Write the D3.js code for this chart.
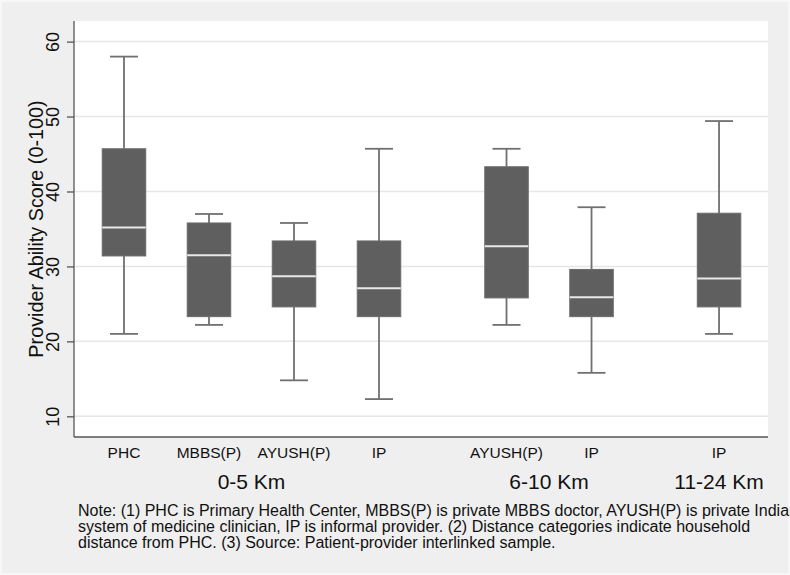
<!DOCTYPE html>
<html>
<head>
<meta charset="utf-8">
<script src="https://cdn.jsdelivr.net/npm/d3@7"></script>
<style>
  html, body { margin: 0; padding: 0; background: #f7f7f7; }
  svg { display: block; }
  text { font-family: "Liberation Sans", Arial, Helvetica, sans-serif; }
</style>
</head>
<body>
<svg id="chart" width="790" height="575"></svg>
<script>
// ---- data ----
const groups = ["0-5 Km", "6-10 Km", "11-24 Km"];
const categories = ["PHC", "MBBS(P)", "AYUSH(P)", "IP", "AYUSH(P)", "IP", "IP"];
const groupIndex = [0, 0, 0, 0, 1, 1, 2];
const whiskerLow  = [21.0, 22.2, 14.8, 12.3, 22.2, 15.8, 21.0];
const q1          = [31.4, 23.3, 24.6, 23.3, 25.8, 23.3, 24.6];
const median      = [35.2, 31.5, 28.7, 27.1, 32.7, 25.9, 28.4];
const q3          = [45.7, 35.8, 33.4, 33.4, 43.3, 29.6, 37.1];
const whiskerHigh = [58.0, 37.0, 35.8, 45.7, 45.7, 37.9, 49.4];
const yTicks = [10, 20, 30, 40, 50, 60];
const yTitle = "Provider Ability Score (0-100)";
const noteLines = [
  "Note: (1) PHC is Primary Health Center, MBBS(P) is private MBBS doctor, AYUSH(P) is private Indian",
  "system of medicine clinician, IP is informal provider. (2) Distance categories indicate household",
  "distance from PHC. (3) Source: Patient-provider interlinked sample."
];

// ---- layout ----
const svg = d3.select("#chart");
const W = 790, H = 575;
const plot = { left: 74, right: 768, top: 21, bottom: 437 };

svg.append("rect").attr("x", 2).attr("y", 2).attr("width", W - 4).attr("height", H - 4)
  .attr("fill", "#efefef");
svg.append("rect").attr("x", plot.left).attr("y", plot.top)
  .attr("width", plot.right - plot.left).attr("height", plot.bottom - plot.top)
  .attr("fill", "#ffffff");

const slot = categories.map((c, i) => i + groupIndex[i] * 0.5);
const x = d3.scaleLinear().domain([-0.588, 7.576]).range([plot.left, plot.right]);
const y = d3.scaleLinear().domain([7.24, 62.75]).range([plot.bottom, plot.top]);

// gridlines
svg.append("g").selectAll("line").data(yTicks).join("line")
  .attr("x1", plot.left).attr("x2", plot.right)
  .attr("y1", d => y(d)).attr("y2", d => y(d))
  .attr("stroke", "#e6e6e6").attr("stroke-width", 1.5);

// y axis
const yAxis = d3.axisLeft(y).tickValues(yTicks).tickSize(7).tickPadding(0).tickFormat(d3.format("d"));
const gy = svg.append("g").attr("transform", `translate(${plot.left},0)`).call(yAxis);
gy.select(".domain").attr("d", `M0,${plot.top}V${plot.bottom}`).attr("stroke", "#555").attr("stroke-width", 1.3);
gy.selectAll(".tick line").attr("stroke", "#555").attr("stroke-width", 1.3);
gy.selectAll(".tick text")
  .attr("x", null).attr("dy", null)
  .attr("transform", "translate(-15.5,0) rotate(-90)")
  .attr("text-anchor", "middle")
  .attr("font-size", 18).attr("fill", "#111")
  .attr("font-family", "'Liberation Sans', Arial, sans-serif");

// x axis line
svg.append("line").attr("x1", plot.left).attr("x2", plot.right)
  .attr("y1", plot.bottom).attr("y2", plot.bottom)
  .attr("stroke", "#555").attr("stroke-width", 1.3);

// y title
svg.append("text")
  .attr("transform", `translate(42.5,${(plot.top + plot.bottom) / 2}) rotate(-90)`)
  .attr("text-anchor", "middle").attr("font-size", 19.8).attr("fill", "#111")
  .text(yTitle);

// boxes
const boxW = 43.5, capW = 28;
const g = svg.append("g");
categories.forEach((c, i) => {
  const cx = x(slot[i]);
  g.append("line").attr("x1", cx).attr("x2", cx)
    .attr("y1", y(q3[i])).attr("y2", y(whiskerHigh[i]))
    .attr("stroke", "#707070").attr("stroke-width", 1.8);
  g.append("line").attr("x1", cx).attr("x2", cx)
    .attr("y1", y(q1[i])).attr("y2", y(whiskerLow[i]))
    .attr("stroke", "#707070").attr("stroke-width", 1.8);
  g.append("line").attr("x1", cx - capW / 2).attr("x2", cx + capW / 2)
    .attr("y1", y(whiskerHigh[i])).attr("y2", y(whiskerHigh[i]))
    .attr("stroke", "#707070").attr("stroke-width", 1.8);
  g.append("line").attr("x1", cx - capW / 2).attr("x2", cx + capW / 2)
    .attr("y1", y(whiskerLow[i])).attr("y2", y(whiskerLow[i]))
    .attr("stroke", "#707070").attr("stroke-width", 1.8);
  g.append("rect").attr("x", cx - boxW / 2).attr("width", boxW)
    .attr("y", y(q3[i])).attr("height", y(q1[i]) - y(q3[i]))
    .attr("fill", "#5f5f5f").attr("stroke", "#6a6a6a").attr("stroke-width", 1);
  g.append("line").attr("x1", cx - boxW / 2).attr("x2", cx + boxW / 2)
    .attr("y1", y(median[i])).attr("y2", y(median[i]))
    .attr("stroke", "#e8e8e8").attr("stroke-width", 2);
  svg.append("text").attr("x", cx).attr("y", 457.5)
    .attr("text-anchor", "middle").attr("font-size", 15.5).attr("fill", "#111")
    .text(c);
});

// group labels
groups.forEach((gname, gi) => {
  const idx = groupIndex.map((v, i) => v === gi ? i : -1).filter(i => i >= 0);
  const cx = (x(slot[idx[0]]) + x(slot[idx[idx.length - 1]])) / 2;
  svg.append("text").attr("x", cx).attr("y", 489)
    .attr("text-anchor", "middle").attr("font-size", 21).attr("fill", "#111")
    .text(gname);
});

// note
svg.append("g").selectAll("text").data(noteLines).join("text")
  .attr("x", 78).attr("y", (d, i) => 515.5 + i * 16)
  .attr("font-size", 16).attr("fill", "#111")
  .text(d => d);
</script>
</body>
</html>
